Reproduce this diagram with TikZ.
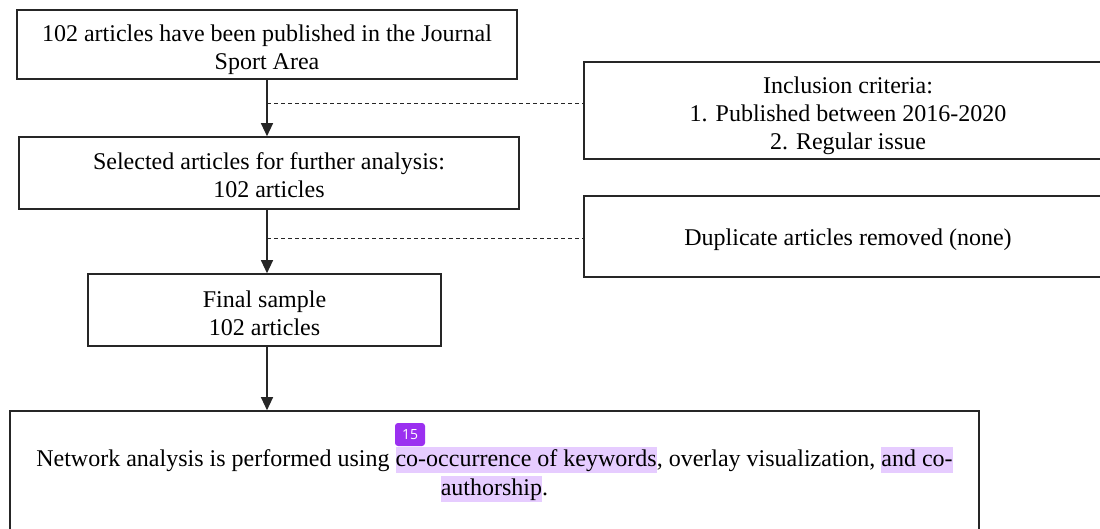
\documentclass[tikz,border=0pt]{standalone}
\usepackage{fontspec}
\setmainfont{Liberation Serif}
\newfontfamily\badgefont{Open Sans}
\usetikzlibrary{arrows.meta}
\definecolor{hl}{HTML}{E6CCFF}
\definecolor{badgecol}{HTML}{9B30F0}
\newcommand\hlite[1]{{\setlength{\fboxsep}{0pt}\colorbox{hl}{\rule[-6.5pt]{0pt}{26pt}#1}}}
\newcommand\topstrut{\rule{0pt}{27pt}}
\newcommand\onestrut{\rule{0pt}{24pt}}
\newcommand\botstrut{\rule[-5pt]{0pt}{5pt}}
\begin{document}
\begin{tikzpicture}[x=1pt,y=-1pt,
  box/.style={draw=black!85, line width=1.6pt, align=center, inner sep=0pt,
    font=\fontsize{24}{28}\selectfont},
  arr/.style={draw=black!85, line width=1.2pt, -{Triangle[width=12pt,length=13pt]}},
  dsh/.style={draw=black!85, line width=0.9pt, dash pattern=on 4pt off 3pt},
  badge/.style={fill=badgecol, rounded corners=3pt, text=white, inner sep=0pt,
    minimum width=30pt, minimum height=23pt, font=\badgefont\fontsize{14}{16}\selectfont}]
\useasboundingbox (0,0) rectangle (1100,529);
\node[box, minimum width=500pt, minimum height=69pt] (b1) at (267,44.5)
  {\topstrut 102 articles have been published in the Journal\\Sport Area\botstrut};
\node[box, minimum width=500pt, minimum height=72pt] (b2) at (269,173)
  {\topstrut Selected articles for further analysis:\\102 articles\botstrut};
\node[box, minimum width=528pt, minimum height=97pt] (inc) at (848,110.5)
  {\topstrut Inclusion criteria:\\1. Published between 2016-2020\\2. Regular issue\botstrut};
\node[box, minimum width=528pt, minimum height=81pt] (dup) at (848,236.5)
  {\onestrut Duplicate articles removed (none)\botstrut};
\node[box, minimum width=353pt, minimum height=72pt] (b3) at (264.5,310)
  {\topstrut Final sample\\102 articles\botstrut};
\node[box, minimum width=969pt, minimum height=122pt, font=\fontsize{24}{29}\selectfont] (b4) at (494.5,472)
  {\onestrut Network analysis is performed using \hlite{co-occurrence of keywords}, overlay visualization, \hlite{and co-}\\\hlite{authorship}.\botstrut};
\node[badge] (bg) at (410,434.5) {15};
\coordinate (d1) at (267,103);
\coordinate (d2) at (267,238);
\draw[arr] (b1.south) -- (b1.south |- b2.north);
\draw[arr] (b1.south |- b2.south) -- (b1.south |- b3.north);
\draw[arr] (b1.south |- b3.south) -- (b1.south |- b4.north);
\draw[dsh] (d1) -- (d1 -| inc.west);
\draw[dsh] (d2) -- (d2 -| dup.west);
\end{tikzpicture}
\end{document}
